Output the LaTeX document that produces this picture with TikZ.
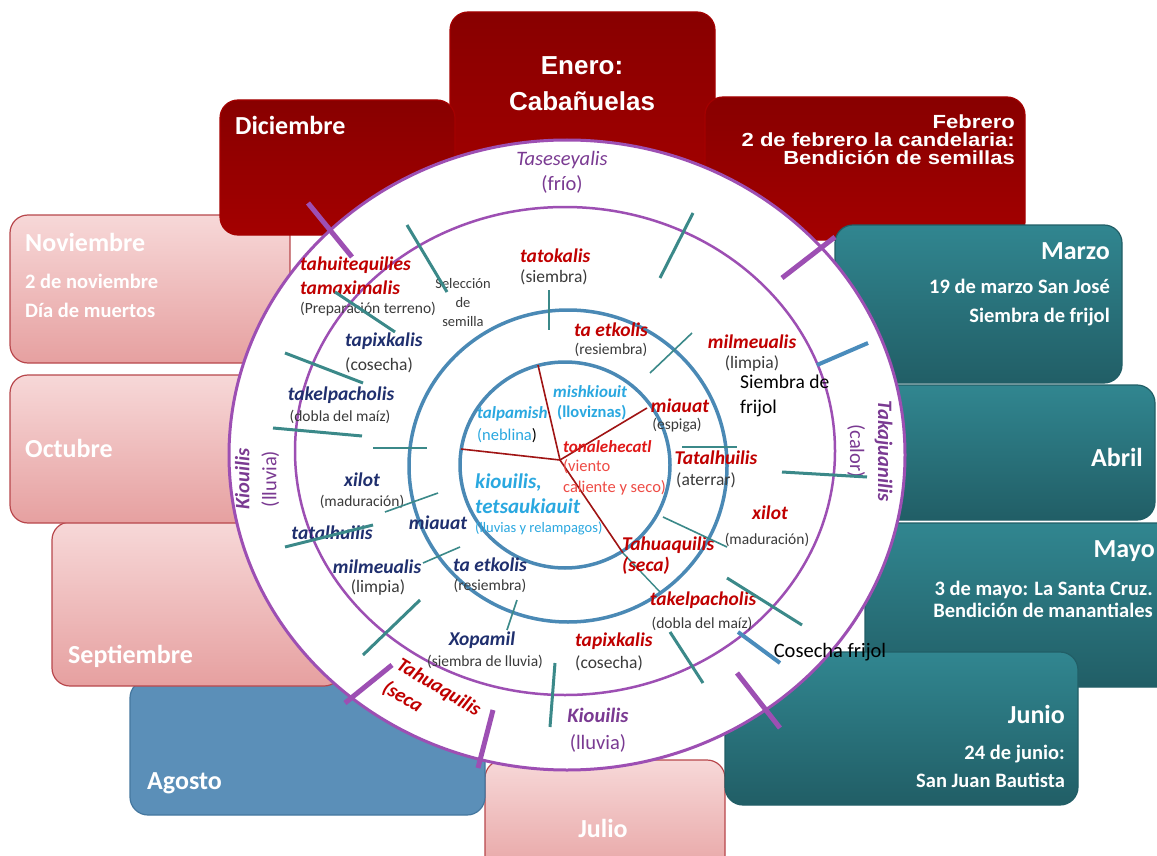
\documentclass[tikz,border=0pt]{standalone}
\usepackage{fontspec}
\setmainfont{Carlito}
\newfontfamily\arialfont{Liberation Sans}
\newfontfamily\arialancha[FakeStretch=1.16]{Liberation Sans}

\definecolor{rojotop}{HTML}{880000}
\definecolor{rojobot}{HTML}{A40000}
\definecolor{rosatop}{HTML}{F7D8D8}
\definecolor{rosabot}{HTML}{E6A0A0}
\definecolor{rosaborde}{HTML}{B8474C}
\definecolor{verdetop}{HTML}{318690}
\definecolor{verdebot}{HTML}{215E66}
\definecolor{azulagosto}{HTML}{5B8FB8}
\definecolor{azulborde}{HTML}{44779F}
\definecolor{morado}{HTML}{9D4FB3}
\definecolor{moradotxt}{HTML}{7A3A92}
\definecolor{azulcirc}{HTML}{4A89B5}
\definecolor{marca}{HTML}{3B8989}
\definecolor{marcaazul}{HTML}{4A8CBC}
\definecolor{rojotxt}{HTML}{C00000}
\definecolor{rojoviv}{HTML}{E01818}
\definecolor{radial}{HTML}{A01414}
\definecolor{salmon}{HTML}{EE4B45}
\definecolor{marino}{HTML}{1F2F6E}
\definecolor{celeste}{HTML}{2AA8E0}
\definecolor{gristxt}{HTML}{3A3A3A}

\begin{document}
\begin{tikzpicture}[x=1pt, y=-1pt,
    caja/.style={rounded corners=18pt, line width=1.2pt},
    cajaroja/.style={caja, top color=rojotop, bottom color=rojobot, draw=rojobot},
    cajarosa/.style={caja, top color=rosatop, bottom color=rosabot, draw=rosaborde},
    cajaverde/.style={caja, top color=verdetop, bottom color=verdebot, draw=verdebot},
    cajaazul/.style={caja, fill=azulagosto, draw=azulborde},
    mes/.style={font=\fontsize{26}{28}\selectfont\bfseries, text=white, inner sep=0pt},
    mesarial/.style={font=\arialfont\fontsize{26}{36}\selectfont\bfseries, text=white, inner sep=0pt},
    fiesta/.style={font=\fontsize{20.5}{29}\selectfont\bfseries, text=white, inner sep=0pt},
    nombre/.style={font=\fontsize{19.5}{21}\selectfont\bfseries\itshape, inner sep=0pt},
    desc/.style={font=\fontsize{15.5}{17}\selectfont, text=gristxt, inner sep=0pt},
    descg/.style={font=\fontsize{17.5}{19}\selectfont, text=gristxt, inner sep=0pt},
    texto/.style={font=\fontsize{19.5}{25}\selectfont, text=black, inner sep=0pt},
    estacion/.style={font=\fontsize{20.5}{25}\selectfont, text=moradotxt, inner sep=0pt, align=center},
    interior/.style={font=\fontsize{17}{19}\selectfont\bfseries\itshape, inner sep=0pt},
    interiorg/.style={font=\fontsize{21}{25}\selectfont\bfseries\itshape, inner sep=0pt},
    descint/.style={font=\fontsize{16.5}{21}\selectfont, inner sep=0pt},
    marcag/.style={draw=marca, line width=3pt},
    marcad/.style={draw=marca, line width=1.6pt},
    marcaz/.style={draw=marcaazul, line width=4pt},
    marcam/.style={draw=morado, line width=5pt},
    radio/.style={draw=radial, line width=1.6pt}]

    \useasboundingbox[fill=white] (0,0) rectangle (1157,856);

    % Cajas de los meses
    \path[cajarosa] (485,760) rectangle (725,885);
    \path[cajaazul] (130,680) rectangle (485,815);
    \path[cajarosa] (52,522) rectangle (342,686);
    \path[cajarosa] (10,375) rectangle (292,523);
    \path[cajarosa] (10,215) rectangle (290,363);
    \path[cajaroja] (450,12) rectangle (715,200);
    \path[cajaroja] (220,100) rectangle (455,235);
    \path[cajaroja] (705,97) rectangle (1025,240);
    \path[cajaverde] (835,225) rectangle (1122,383);
    \path[cajaverde] (860,385) rectangle (1155,520);
    \path[cajaverde] (865,523) rectangle (1175,687);
    \path[cajaverde] (725,652) rectangle (1078,805);

    % Textos de las cajas
    \node[mesarial, align=center] (enero) at (582,84) {Enero:\\Cabañuelas};
    \node[mes, anchor=west] (diciembre) at (235,125) {Diciembre};
    \node[mesarial, font=\arialancha\fontsize{19}{18}\selectfont\bfseries, anchor=east, align=right] (febrero) at (1015,140)
        {Febrero\\2 de febrero la candelaria:\\Bendición de semillas};
    \node[mes, anchor=west] (noviembre) at (25,242) {Noviembre};
    \node[fiesta, anchor=west, align=left] (muertos) at (25,296) {2 de noviembre\\Día de muertos};
    \node[mes, anchor=west] (octubre) at (25,448) {Octubre};
    \node[mes, anchor=west] (septiembre) at (68,656) {Septiembre};
    \node[mes, anchor=west] (agosto) at (147,783) {Agosto};
    \node[mes] (julio) at (603,828) {Julio};
    \node[mes, anchor=east] (marzo) at (1110,251) {Marzo};
    \node[fiesta, anchor=east, align=right] (sanjose) at (1110,303) {19 de marzo San José\\Siembra de frijol};
    \node[mes, anchor=east] (abril) at (1143,457) {Abril};
    \node[mes, anchor=east] (mayo) at (1155,551) {Mayo};
    \node[fiesta, font=\fontsize{20.5}{22}\selectfont\bfseries, anchor=east, align=right] (santacruz) at (1153,599)
        {3 de mayo: La Santa Cruz.\\Bendición de manantiales};
    \node[mes, anchor=east] (junio) at (1065,714) {Junio};
    \node[fiesta, font=\fontsize{20.5}{28}\selectfont\bfseries, anchor=east, align=right] (sanjuan) at (1065,766)
        {24 de junio:\\San Juan Bautista};

    % Circulos
    \draw[morado, line width=3pt, fill=white] (567,455) ellipse [x radius=338pt, y radius=315pt];
    \draw[morado, line width=2.5pt] (565,451) ellipse [x radius=270pt, y radius=244pt];
    \draw[azulcirc, line width=3.5pt] (568,466) ellipse [x radius=159pt, y radius=156pt];
    \draw[azulcirc, line width=3.5pt] (565,465) ellipse [x radius=105pt, y radius=103pt];

    % Radios del circulo interior
    \coordinate (centro) at (560,460);
    \foreach \p in {(538,365), (647,408), (461,449), (623,553)}
        \draw[radio] (centro) -- \p;
    \draw[marcad, line width=1.4pt] (623,553) -- (660,592);

    % Estaciones
    \node[estacion] (taseseyalis) at (562,172) {\itshape Taseseyalis\\(frío)};
    \node[estacion, font=\fontsize{20.5}{28}\selectfont, rotate=-90] (takajuanilis) at (870,451)
        {{\bfseries\itshape Takajuanilis}\\(calor)};
    \node[estacion, font=\fontsize{20.5}{27}\selectfont, rotate=90] (kiouilisizq) at (257,479)
        {{\bfseries\itshape Kiouilis}\\(lluvia)};
    \node[estacion, font=\fontsize{20.5}{27}\selectfont] (kiouilisab) at (598,730)
        {{\bfseries\itshape Kiouilis}\\(lluvia)};
    \node[nombre, font=\fontsize{20}{27}\selectfont\bfseries\itshape, text=rojotxt, rotate=-31, anchor=west, align=left]
        (tahuaquilisext) at (391,675) {Tahuaquilis\\(seca};

    % Anillo de trabajos (rojo)
    \node[nombre, text=rojotxt, anchor=west] (tahuitequilies) at (300,265) {tahuitequilies};
    \node[nombre, text=rojotxt, anchor=west] (tamaximalis) at (300,288) {tamaximalis};
    \node[desc, anchor=west] (preparacion) at (300,309) {(Preparación terreno)};
    \node[desc, font=\fontsize{14.5}{19}\selectfont, align=center] (seleccion) at (463,303) {Selección\\de\\semilla};
    \node[nombre, text=rojotxt, anchor=west] (tatokalis) at (520,256) {tatokalis};
    \node[descg, anchor=west] (siembra) at (520,277) {(siembra)};
    \node[nombre, text=rojotxt] (taetkolisr) at (611,330) {ta etkolis};
    \node[desc] (resiembrar) at (611,350) {(resiembra)};
    \node[nombre, text=rojotxt] (milmeualisr) at (752,342) {milmeualis};
    \node[descg] (limpiar) at (752,364) {(limpia)};
    \node[texto, anchor=west, align=left] (siembrafrijol) at (740,396) {Siembra de\\frijol};
    \node[nombre, text=rojotxt] (miauatr) at (680,406) {miauat};
    \node[desc] (espiga) at (677,425) {(espiga)};
    \node[nombre, text=rojotxt] (tatalhuilisr) at (716,458) {Tatalhuilis};
    \node[descg] (aterrar) at (706,480) {(aterrar)};
    \node[nombre, text=rojotxt] (xilotr) at (770,513) {xilot};
    \node[desc] (maduracionr) at (767,540) {(maduración)};
    \node[nombre, text=rojotxt, anchor=west] (tahuaquilisr) at (622,545) {Tahuaquilis};
    \node[nombre, text=rojotxt, anchor=west] (secar) at (622,566) {(seca)};
    \node[nombre, text=rojotxt] (takelpacholisr) at (703,600) {takelpacholis};
    \node[desc] (doblar) at (702,624) {(dobla del maíz)};
    \node[nombre, text=rojotxt, anchor=west] (tapixkalisr) at (575,641) {tapixkalis};
    \node[descg, anchor=west] (cosechar) at (575,663) {(cosecha)};
    \node[texto, font=\fontsize{20.5}{25}\selectfont] (cosechafrijol) at (830,652) {Cosecha frijol};

    % Anillo de trabajos (azul marino)
    \node[nombre, text=marino] (xopamil) at (482,640) {Xopamil};
    \node[desc] (siembralluvia) at (485,662) {(siembra de lluvia)};
    \node[nombre, text=marino] (taetkolisa) at (490,565) {ta etkolis};
    \node[desc] (resiembraa) at (490,586) {(resiembra)};
    \node[nombre, text=marino] (milmeualisa) at (377,567) {milmeualis};
    \node[descg] (limpiaa) at (378,588) {(limpia)};
    \node[nombre, text=marino] (miauata) at (438,523) {miauat};
    \node[nombre, text=marino] (tatalhuilisa) at (332,533) {tatalhuilis};
    \node[nombre, text=marino] (xilota) at (362,480) {xilot};
    \node[desc] (maduraciona) at (362,502) {(maduración)};
    \node[nombre, text=marino] (takelpacholisa) at (341,395) {takelpacholis};
    \node[desc] (doblaa) at (340,417) {(dobla del maíz)};
    \node[nombre, text=marino, anchor=west] (tapixkalisa) at (345,341) {tapixkalis};
    \node[descg, anchor=west] (cosechaa) at (345,365) {(cosecha)};

    % Circulo interior: lluvias y vientos
    \node[interior, text=celeste, anchor=west] (mishkiouit) at (553,392) {mishkiouit};
    \node[interior, font=\fontsize{16.5}{18}\selectfont\bfseries, text=celeste, anchor=west] (lloviznas) at (557,413) {(lloviznas)};
    \node[interior, text=celeste, anchor=west] (talpamish) at (477,414) {talpamish};
    \node[descint, anchor=west] (neblina) at (477,436) {\textcolor{celeste}{(neblina}\textcolor{black}{)}};
    \node[interior, text=rojoviv, anchor=west] (tonalehecatl) at (563,447) {tonalehecatl};
    \node[descint, text=salmon, anchor=west, align=left] (viento) at (563,477) {(viento\\caliente  y seco)};
    \node[interiorg, text=celeste, anchor=west, align=left] (kiouilisint) at (475,494) {kiouilis,\\tetsaukiauit};
    \node[descint, font=\fontsize{14.5}{16}\selectfont, text=celeste, anchor=west] (relampagos) at (475,528) {(lluvias y relampagos)};

    % Marcas entre meses
    \foreach \xa/\ya/\xb/\yb in {407/225/447/292, 335/292/395/332, 285/353/363/383, 273/428/362/436,
            285/547/373/525, 363/655/420/600, 555/663/550/727, 693/213/660/278,
            782/472/867/477, 727/578/802/625, 670/632/703/683}
        \draw[marcag] (\xa,\ya) -- (\xb,\yb);
    \foreach \xa/\ya/\xb/\yb in {373/448/427/448, 385/512/438/493, 423/563/460/547, 507/630/517/600,
            549/290/549/330, 650/373/692/333, 682/447/737/447, 663/517/727/547}
        \draw[marcad] (\xa,\ya) -- (\xb,\yb);
    \foreach \xa/\ya/\xb/\yb in {817/365/868/343, 738/632/780/663}
        \draw[marcaz] (\xa,\ya) -- (\xb,\yb);
    \foreach \xa/\ya/\xb/\yb in {308/203/352/257, 345/703/392/665, 478/768/493/710,
            737/673/780/728, 782/278/835/237}
        \draw[marcam] (\xa,\ya) -- (\xb,\yb);
\end{tikzpicture}
\end{document}
